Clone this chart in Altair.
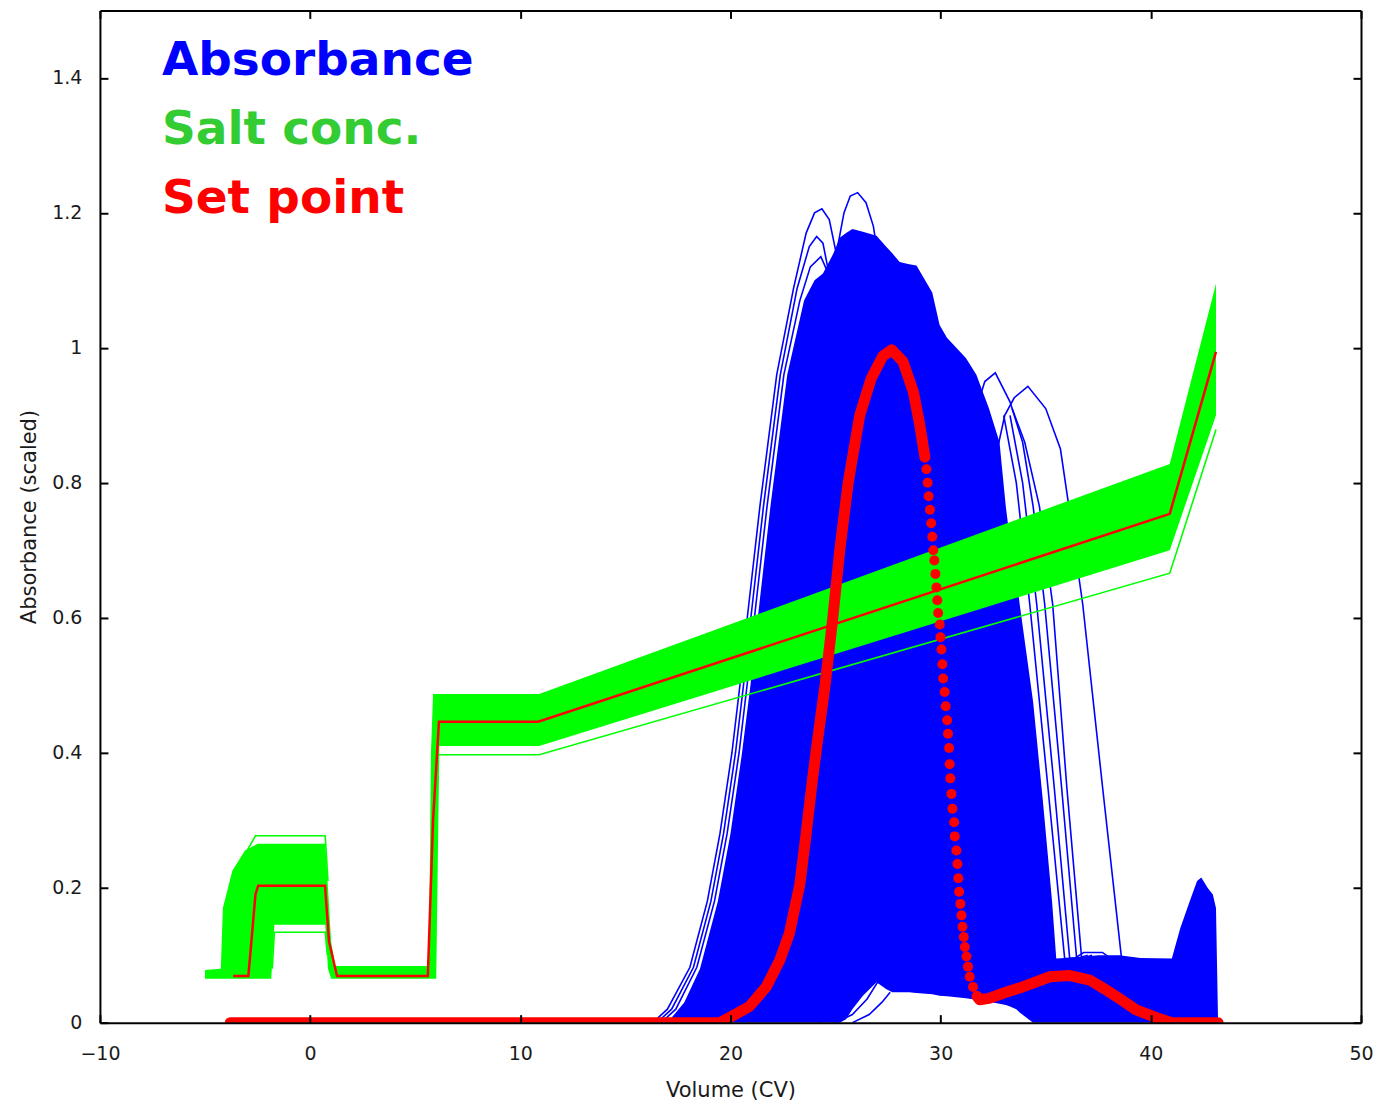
import altair as alt
import pandas as pd

# ---------------- axis ticks ----------------
X_TICKS = [-10, 0, 10, 20, 30, 40, 50]
Y_TICKS = [0, 0.2, 0.4, 0.6, 0.8, 1, 1.2, 1.4]

# ---------------- absorbance (blue) envelope of the dense bundle ----------------
BLUE_X = [17.0, 17.8, 18.55, 19.4, 20.0, 20.55, 20.95, 21.3, 21.9, 22.7,
          23.5, 24.0, 24.4, 24.9, 25.2, 25.5, 25.8, 26.3, 26.95, 27.4,
          27.7, 28.05, 28.5, 28.85, 29.6, 29.95, 30.3, 31.2, 31.7, 32.3,
          32.8, 33.1, 33.3, 33.6, 33.76, 34.4, 34.86, 35.3, 35.5, 36.5,
          37.5, 38.5, 39.5, 41.0, 41.4, 41.85, 42.2, 42.4, 42.7, 42.95,
          43.1, 43.2]
BLUE_HI = [0.0, 0.03, 0.08, 0.18, 0.28, 0.4, 0.5, 0.6, 0.765, 0.96,
           1.07, 1.1, 1.11, 1.14, 1.163, 1.17, 1.176, 1.172, 1.166, 1.15,
           1.14, 1.127, 1.124, 1.122, 1.082, 1.034, 1.015, 0.985, 0.96, 0.91,
           0.86, 0.765, 0.715, 0.66, 0.62, 0.475, 0.33, 0.18, 0.095, 0.097,
           0.1, 0.1, 0.096, 0.095, 0.14, 0.18, 0.21, 0.215, 0.2, 0.19,
           0.17, 0.0]
BLUE_LO = [0, 0, 0, 0, 0, 0, 0, 0, 0, 0,
           0, 0, 0, 0, 0, 0.005, 0.02, 0.04, 0.06, 0.05,
           0.045, 0.045, 0.045, 0.044, 0.042, 0.04, 0.039, 0.036, 0.034, 0.031,
           0.028, 0.026, 0.024, 0.02, 0.015, 0.0, 0, 0, 0, 0,
           0, 0, 0, 0, 0, 0, 0, 0, 0, 0,
           0, 0]

# ---------------- individual blue (outlier) runs ----------------
BL_A_X = [16.3, 17.0, 18.07, 18.9, 19.5, 20.07, 20.45, 20.8, 21.4, 22.2, 23.0, 23.6, 24.0, 24.35, 24.7, 25.1, 25.5, 26.0]
BL_A_Y = [0.0, 0.02, 0.082, 0.18, 0.28, 0.40, 0.50, 0.60, 0.765, 0.96, 1.088, 1.17, 1.20, 1.206, 1.19, 1.13, 1.04, 0.9]
BL_B_X = [16.5, 17.2, 18.24, 19.07, 19.67, 20.24, 20.62, 20.97, 21.57, 22.37, 23.17, 23.75, 24.1, 24.4, 24.75, 25.2]
BL_B_Y = [0.0, 0.02, 0.082, 0.18, 0.28, 0.4, 0.5, 0.6, 0.765, 0.96, 1.088, 1.15, 1.165, 1.155, 1.1, 0.98]
BL_C_X = [16.7, 17.4, 18.4, 19.24, 19.84, 20.41, 20.79, 21.14, 21.74, 22.54, 23.3, 23.8, 24.3, 24.8, 25.3]
BL_C_Y = [0.0, 0.02, 0.082, 0.18, 0.28, 0.4, 0.5, 0.6, 0.765, 0.96, 1.07, 1.12, 1.135, 1.1, 1.0]
BL_P2_X = [24.8, 25.1, 25.4, 25.7, 26.05, 26.45, 26.8, 27.2, 27.6]
BL_P2_Y = [1.08, 1.15, 1.2, 1.225, 1.23, 1.215, 1.18, 1.1, 1.0]
BL_R1_X = [33.0, 33.6, 34.24, 35.1, 35.9, 36.4]
BL_R1_Y = [0.9, 0.8, 0.62, 0.35, 0.095, 0.095]
BL_R2_X = [33.3, 33.9, 34.57, 35.4, 36.14, 36.6]
BL_R2_Y = [0.9, 0.8, 0.62, 0.35, 0.095, 0.097]
BL_R3_X = [31.6, 32.1, 32.6, 33.3, 33.9, 34.4, 34.95, 35.75, 36.47, 37.0]
BL_R3_Y = [0.9, 0.95, 0.963, 0.92, 0.86, 0.765, 0.62, 0.35, 0.095, 0.1]
BL_R4_X = [33.4, 34.0, 34.7, 35.33, 36.0, 36.71, 37.2]
BL_R4_Y = [0.91, 0.86, 0.765, 0.62, 0.35, 0.095, 0.1]
BL_R5_X = [32.7, 33.05, 33.5, 34.15, 35.0, 35.7, 36.1, 36.76, 37.7, 38.6, 39.2]
BL_R5_Y = [0.85, 0.9, 0.926, 0.943, 0.91, 0.85, 0.765, 0.62, 0.35, 0.097, 0.095]
BL_T_X = [36.4, 36.8, 37.7, 38.0]
BL_T_Y = [0.096, 0.104, 0.104, 0.097]
BL_D_X = [24.2, 25.0, 25.8, 26.5, 27.0]
BL_D_Y = [0.0, 0.015, 0.045, 0.1, 0.18]
BL_E_X = [25.0, 25.8, 26.5, 27.0, 27.4]
BL_E_Y = [0.0, 0.012, 0.035, 0.06, 0.1]
BL_F_X = [25.8, 26.6, 27.2, 27.6]
BL_F_Y = [0.0, 0.012, 0.03, 0.045]

# ---------------- salt concentration (green) envelope ----------------
GREEN_X = [-5.0, -4.25, -4.15, -3.7, -3.1, -2.5, -1.85, -1.7, 0.72, 0.85,
           1.0, 1.2, 5.65, 5.75, 5.85, 6.0, 6.15, 10.9, 40.9, 43.1]
GREEN_HI = [0.078, 0.08, 0.17, 0.225, 0.255, 0.265, 0.265, 0.265, 0.265, 0.2,
            0.12, 0.084, 0.084, 0.4, 0.487, 0.487, 0.487, 0.487, 0.828, 1.095]
GREEN_LO = [0.065, 0.065, 0.065, 0.065, 0.065, 0.065, 0.065, 0.145, 0.145, 0.08,
            0.065, 0.065, 0.065, 0.065, 0.065, 0.065, 0.41, 0.41, 0.70, 0.90]

GL_TOP_X = [-3.0, -2.6, 0.72, 0.85]
GL_TOP_Y = [0.255, 0.277, 0.277, 0.21]
GL_BOT_X = [-1.8, -1.7, 0.72, 0.82]
GL_BOT_Y = [0.08, 0.134, 0.134, 0.1]
GL_LOW_X = [6.0, 6.1, 10.9, 40.9, 43.1]
GL_LOW_Y = [0.3, 0.397, 0.397, 0.666, 0.879]

# ---------------- set point: salt (thin red) ----------------
SP_SALT_X = [-3.66, -2.94, -2.85, -2.6, -2.47, 0.71, 0.9, 1.28, 5.6, 5.85, 6.13, 10.85, 40.9, 43.1]
SP_SALT_Y = [0.069, 0.069, 0.1, 0.19, 0.203, 0.203, 0.12, 0.069, 0.069, 0.3, 0.446, 0.446, 0.754, 0.994]

# ---------------- set point: absorbance (thick red) ----------------
SP_ABS1_X = [-3.8, 19.5, 20.1, 20.9, 21.7, 22.35, 22.8, 23.3, 23.6, 23.9,
             24.15, 24.5, 24.87, 25.2, 25.6, 26.15, 26.7, 27.25, 27.67, 28.2,
             28.7, 29.0, 29.25]
SP_ABS1_Y = [0.0, 0.0, 0.01, 0.024, 0.053, 0.093, 0.132, 0.205, 0.28, 0.36,
             0.42, 0.5, 0.6, 0.7, 0.8, 0.9, 0.955, 0.988, 0.997, 0.98,
             0.935, 0.887, 0.838]
SP_ABS2_X = [31.73, 31.86, 32.3, 33.0, 33.9, 35.2, 36.1, 37.1, 37.8, 38.4, 39.3, 40.3, 41.0, 43.2]
SP_ABS2_Y = [0.039, 0.034, 0.036, 0.044, 0.053, 0.068, 0.07, 0.063, 0.05, 0.038, 0.019, 0.007, 0.0, 0.0]
SP_DOT_X = [29.32, 29.38, 29.43, 29.49, 29.55, 29.6, 29.65, 29.7, 29.75, 29.8,
            29.84, 29.88, 29.96, 29.99, 30.04, 30.08, 30.12, 30.19, 30.24, 30.31,
            30.35, 30.4, 30.43, 30.46, 30.51, 30.56, 30.64, 30.67, 30.75, 30.8,
            30.84, 30.88, 30.94, 30.99, 31.04, 31.1, 31.15, 31.23, 31.3, 31.38,
            31.54, 31.73]
SP_DOT_Y = [0.82, 0.8, 0.78, 0.76, 0.74, 0.72, 0.7, 0.685, 0.665, 0.645,
            0.626, 0.607, 0.59, 0.571, 0.553, 0.531, 0.51, 0.49, 0.469, 0.448,
            0.428, 0.407, 0.383, 0.362, 0.339, 0.317, 0.297, 0.276, 0.255, 0.235,
            0.214, 0.194, 0.176, 0.159, 0.142, 0.127, 0.112, 0.098, 0.083, 0.068,
            0.053, 0.039]

LEGEND_LABELS = ["Absorbance", "Salt conc.", "Set point"]
LEGEND_COLORS = ["#0000ff", "#33cc33", "#ff0000"]


def long_df(series):
    rows = []
    for name, (xs, ys) in series.items():
        for i, (x, y) in enumerate(zip(xs, ys)):
            rows.append({"id": name, "o": i, "x": x, "y": y})
    return pd.DataFrame(rows)


blue_band = pd.DataFrame({"x": BLUE_X, "hi": BLUE_HI, "lo": BLUE_LO})
blue_lines = long_df({
    "A": (BL_A_X, BL_A_Y), "B": (BL_B_X, BL_B_Y), "C": (BL_C_X, BL_C_Y),
    "P2": (BL_P2_X, BL_P2_Y), "R1": (BL_R1_X, BL_R1_Y), "R2": (BL_R2_X, BL_R2_Y),
    "R3": (BL_R3_X, BL_R3_Y), "R4": (BL_R4_X, BL_R4_Y), "R5": (BL_R5_X, BL_R5_Y),
    "T": (BL_T_X, BL_T_Y), "D": (BL_D_X, BL_D_Y), "E": (BL_E_X, BL_E_Y),
    "F": (BL_F_X, BL_F_Y),
})
green_band = pd.DataFrame({"x": GREEN_X, "hi": GREEN_HI, "lo": GREEN_LO})
green_lines = long_df({
    "top": (GL_TOP_X, GL_TOP_Y), "bot": (GL_BOT_X, GL_BOT_Y), "low": (GL_LOW_X, GL_LOW_Y),
})
salt_sp = long_df({"salt": (SP_SALT_X, SP_SALT_Y)})
abs_sp = long_df({"s1": (SP_ABS1_X, SP_ABS1_Y), "s2": (SP_ABS2_X, SP_ABS2_Y)})
abs_dots = pd.DataFrame({"x": SP_DOT_X, "y": SP_DOT_Y})

W, H = 1262, 1013
FONT = "DejaVu Sans"
TXT = "#1a1a1a"
xs = alt.Scale(domain=[-10, 50], nice=False, zero=False)
ys = alt.Scale(domain=[0, 1.5], nice=False, zero=False)

x_main = alt.Axis(orient="bottom", values=X_TICKS, format="d", ticks=False, domain=False,
                  grid=False, labelFont=FONT, labelFontSize=19, labelColor=TXT,
                  labelPadding=22, labelFlush=False, labelOverlap=False,
                  title="Volume (CV)", titleFont=FONT, titleFontSize=21,
                  titleFontWeight="normal", titleColor=TXT, titlePadding=16)
y_main = alt.Axis(orient="left", values=Y_TICKS, format="~g", ticks=False, domain=False,
                  grid=False, labelFont=FONT, labelFontSize=19, labelColor=TXT,
                  labelPadding=18, labelFlush=False, labelOverlap=False,
                  title="Absorbance (scaled)", titleFont=FONT, titleFontSize=21,
                  titleFontWeight="normal", titleColor=TXT, titlePadding=12)


def tick_axis(orient, values, offset):
    return alt.Axis(orient=orient, values=values, offset=offset, labels=False, title="",
                    ticks=True, tickSize=8, tickWidth=2, tickColor="black",
                    domain=True, domainWidth=2, domainColor="black", grid=False, zindex=1)


band_blue = alt.Chart(blue_band).mark_area(color="#0000ff", clip=True).encode(
    x=alt.X("x:Q", scale=xs, axis=x_main),
    y=alt.Y("hi:Q", scale=ys, axis=y_main),
    y2="lo:Q",
)
lines_blue = alt.Chart(blue_lines).mark_line(color="#0000ff", strokeWidth=1.6, clip=True).encode(
    x=alt.X("x:Q", scale=xs, axis=tick_axis("top", X_TICKS, -H)),
    y=alt.Y("y:Q", scale=ys, axis=tick_axis("right", Y_TICKS, -W)),
    detail="id:N", order="o:Q",
)
band_green = alt.Chart(green_band).mark_area(color="#00ff00", clip=True).encode(
    x=alt.X("x:Q", scale=xs, axis=tick_axis("bottom", X_TICKS, -H)),
    y=alt.Y("hi:Q", scale=ys, axis=tick_axis("left", Y_TICKS, -W)),
    y2="lo:Q",
)
lines_green = alt.Chart(green_lines).mark_line(color="#00ff00", strokeWidth=1.6, clip=True).encode(
    x=alt.X("x:Q", scale=xs, axis=None),
    y=alt.Y("y:Q", scale=ys, axis=None),
    detail="id:N", order="o:Q",
)
line_salt_sp = alt.Chart(salt_sp).mark_line(color="#ff0000", strokeWidth=2.5, clip=True).encode(
    x=alt.X("x:Q", scale=xs, axis=None),
    y=alt.Y("y:Q", scale=ys, axis=None),
    detail="id:N", order="o:Q",
)
line_abs_sp = alt.Chart(abs_sp).mark_line(color="#ff0000", strokeWidth=11, strokeCap="round",
                                          strokeJoin="round", clip=True).encode(
    x=alt.X("x:Q", scale=xs, axis=None),
    y=alt.Y("y:Q", scale=ys, axis=None),
    detail="id:N", order="o:Q",
)
dots_abs_sp = alt.Chart(abs_dots).mark_circle(color="#ff0000", size=100, opacity=1, clip=True).encode(
    x=alt.X("x:Q", scale=xs, axis=None),
    y=alt.Y("y:Q", scale=ys, axis=None),
)

legend_layers = []
for i, (lab, col) in enumerate(zip(LEGEND_LABELS, LEGEND_COLORS)):
    legend_layers.append(
        alt.Chart(pd.DataFrame({"t": [lab]})).mark_text(
            font=FONT, fontSize=47, fontWeight="bold", color=col,
            align="left", baseline="alphabetic",
        ).encode(text="t:N", x=alt.value(62), y=alt.value(65 + 69 * i))
    )

chart = alt.layer(
    band_blue, lines_blue, band_green, lines_green, line_salt_sp,
    line_abs_sp, dots_abs_sp, *legend_layers,
).resolve_axis(x="independent", y="independent").properties(
    width=W, height=H,
    autosize=alt.AutoSizeParams(type="none"),
    padding={"left": 92, "top": 2, "right": 12, "bottom": 90},
    background="white",
).configure_view(stroke=None)

chart.save("out.html", embed_options={"renderer": "svg", "actions": False})
